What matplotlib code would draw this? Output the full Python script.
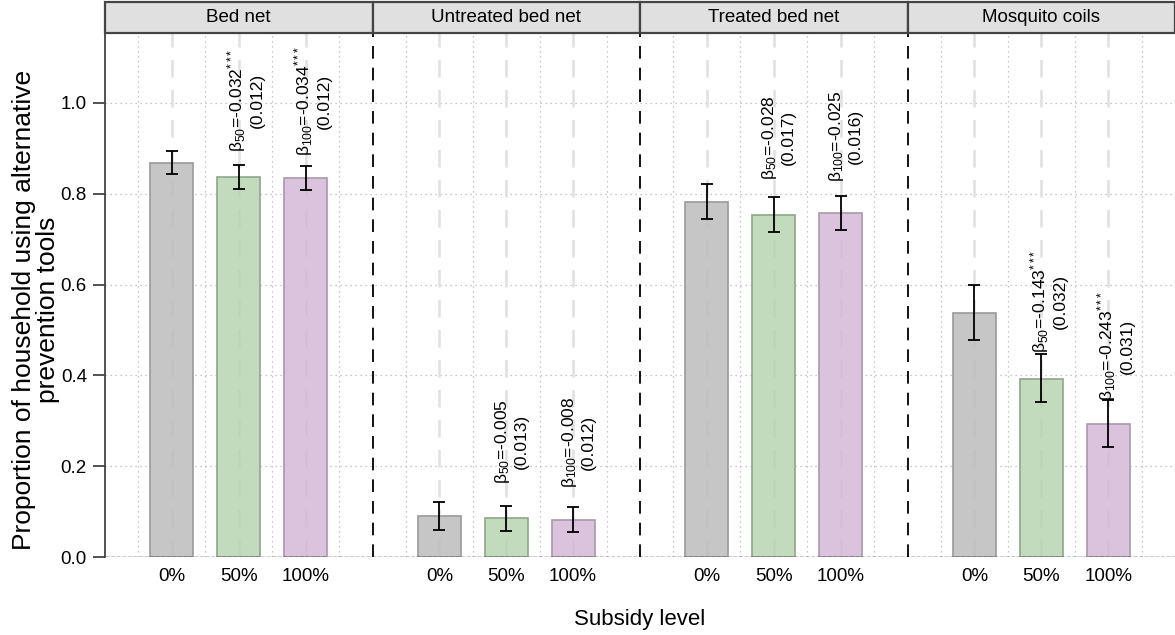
import matplotlib
matplotlib.use("Agg")
import matplotlib.pyplot as plt
from matplotlib.patches import Rectangle

plt.rcParams['font.family'] = ['Liberation Sans', 'DejaVu Sans']
plt.rcParams['mathtext.fontset'] = 'custom'
plt.rcParams['mathtext.rm'] = 'Liberation Sans'
plt.rcParams['mathtext.it'] = 'Liberation Sans'

panels = ["Bed net", "Untreated bed net", "Treated bed net", "Mosquito coils"]
levels = ["0%", "50%", "100%"]

# mean and 95% CI, per panel, per subsidy level
means = [[0.868, 0.836, 0.834],
         [0.090, 0.085, 0.082],
         [0.781, 0.753, 0.757],
         [0.537, 0.393, 0.294]]
lows = [[0.843, 0.811, 0.808],
        [0.060, 0.057, 0.055],
        [0.744, 0.716, 0.720],
        [0.478, 0.341, 0.242]]
highs = [[0.895, 0.864, 0.862],
         [0.121, 0.113, 0.110],
         [0.821, 0.793, 0.794],
         [0.598, 0.447, 0.346]]

# regression coefficients (50%, 100%) with standard errors
betas = [["-0.032", "-0.034"], ["-0.005", "-0.008"],
         ["-0.028", "-0.025"], ["-0.143", "-0.243"]]
ses = [["0.012", "0.012"], ["0.013", "0.012"],
       ["0.017", "0.016"], ["0.032", "0.031"]]
stars = [["***", "***"], ["", ""], ["", ""], ["***", "***"]]

fills = ["#c6c6c6", "#c2dbbc", "#dbc3de"]
edges = ["#9a9a9a", "#8fa58b", "#a898ab"]

W, H = 1175, 635
fig = plt.figure(figsize=(W / 100, H / 100), dpi=100)
ax = fig.add_axes([105 / W, (H - 557) / H, (W - 105) / W, (557 - 33) / H])
strip = fig.add_axes([105 / W, (H - 33) / H, (W - 105) / W, 31 / H])

n = len(panels)
ax.set_xlim(0, 4 * n)
ax.set_ylim(0, 1.154)

# grid
for k in range(4 * n):
    ax.axvline(k + 0.5, color="#b5b5b5", lw=0.9, ls=(0, (1, 3)), zorder=0)
for yv in [0.2, 0.4, 0.6, 0.8, 1.0]:
    ax.axhline(yv, color="#b5b5b5", lw=0.9, ls=(0, (1, 3)), zorder=0)

for p in range(n):
    xs = [4 * p + 1 + i for i in range(3)]
    for i, x in enumerate(xs):
        m = means[p][i]
        ax.axvline(x, color="#ececec", lw=1.8, ls=(0, (7, 5)), zorder=1)
        ax.bar(x, m, width=0.64, color=fills[i], edgecolor=edges[i], lw=1.2, zorder=2)
        ax.axvline(x, color="#b0b0b0", alpha=0.18, lw=1.8, ls=(0, (7, 5)), zorder=3)
        ax.errorbar(x, m, yerr=[[m - lows[p][i]], [highs[p][i] - m]], fmt="none",
                    ecolor="black", elinewidth=1.3, capsize=4, capthick=1.3, zorder=4)
        if i > 0:
            sub = "50" if i == 1 else "100"
            lab = r"β$_{\mathregular{%s}}$=%s" % (sub, betas[p][i - 1])
            if stars[p][i - 1]:
                lab += r"$^{{*}\,{*}\,{*}}$"
            lab = lab + "\n(" + ses[p][i - 1] + ")"
            ax.text(x - 0.2, m + 0.17, lab, rotation=90, ha="left", va="center",
                    multialignment="center", fontsize=12.5, zorder=5, linespacing=1.15)
    if p > 0:
        ax.axvline(4 * p, color="black", lw=1.3, ls=(0, (7, 5)), zorder=3)

ax.axhline(0, color="black", lw=1.0, ls=(0, (3, 1)), zorder=5)

ax.set_xticks([4 * p + 1 + i for p in range(n) for i in range(3)])
ax.set_xticklabels(levels * n, fontsize=13.5)
ax.tick_params(axis="x", length=0, pad=8)
ax.set_yticks([0.0, 0.2, 0.4, 0.6, 0.8, 1.0])
ax.set_yticklabels(["0.0", "0.2", "0.4", "0.6", "0.8", "1.0"], fontsize=13.5)
ax.tick_params(axis="y", length=9, width=1.3, color="#444444", pad=4, direction="out")
for s in ["top", "right", "bottom"]:
    ax.spines[s].set_visible(False)
ax.spines["left"].set_color("#444444")
ax.spines["left"].set_linewidth(1.3)

fig.text(36 / W, 1 - 310 / H, "Proportion of household using alternative\nprevention tools",
         rotation=90, ha="center", va="center", fontsize=19, linespacing=0.95)
fig.text(640 / W, 1 - 620 / H, "Subsidy level", ha="center", va="center", fontsize=16)

# strip headers
strip.set_xlim(0, n)
strip.set_ylim(0, 1)
strip.axis("off")
for p in range(n):
    strip.add_patch(Rectangle((p, 0), 1, 1, facecolor="#e0e0e0", edgecolor="#444444",
                              lw=1.6, clip_on=False))
    strip.text(p + 0.5, 0.5, panels[p], ha="center", va="center", fontsize=13.5)

fig.savefig("out.png", dpi=100)
